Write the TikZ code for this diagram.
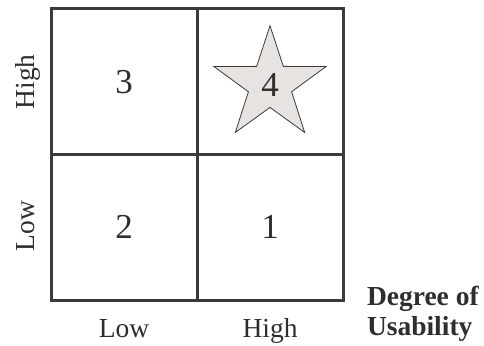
\documentclass[tikz,border=0pt]{standalone}
\usepackage{fontspec}
\setmainfont{Liberation Serif}
\usepackage{tikz}
\usetikzlibrary{positioning,shapes.geometric}
\definecolor{GridGray}{HTML}{3A3A3D}
\definecolor{StarGray}{HTML}{E6E3E1}
\definecolor{TextGray}{HTML}{2E2E30}

\begin{document}
\begin{tikzpicture}[x=1pt, y=-1pt, every node/.style={text=TextGray, inner sep=0pt, outer sep=0pt},
    cell/.style={draw=GridGray, line width=3pt, minimum width=146pt, minimum height=145.5pt, font=\fontsize{35}{38}\selectfont},
    axislbl/.style={font=\fontsize{27.5}{30}\selectfont}]
        \useasboundingbox (0,0) rectangle (484,345);

        % Les quatre cases de la matrice
        \node[cell] (c3) at (124,81.75) {3};
        \node[cell, right=0pt of c3] (c4) {};
        \node[cell, below=0pt of c3] (c2) {2};
        \node[cell, right=0pt of c2] (c1) {1};

        % Etoile dans la case 4
        \node[star, star points=5, star point ratio=2.6, minimum size=118pt, draw=GridGray, line width=0.8pt,
              fill=StarGray, font=\fontsize{35}{38}\selectfont] (s4) at ([yshift=-3pt]c4.center) {4};

        % Axe vertical
        \node[axislbl, rotate=90, anchor=base] (yhigh) at (34,81.75) {High};
        \node[axislbl, rotate=90, anchor=base] (ylow) at (34,226) {Low};

        % Axe horizontal
        \node[axislbl, anchor=base] (xlow) at (124,337) {Low};
        \node[axislbl, anchor=base] (xhigh) at (270,337) {High};
        \node[axislbl, font=\fontsize{27.5}{30}\selectfont\bfseries, align=left, anchor=base west] (usab) at (367,335) {Degree of\\Usability};
    \end{tikzpicture}
\end{document}
